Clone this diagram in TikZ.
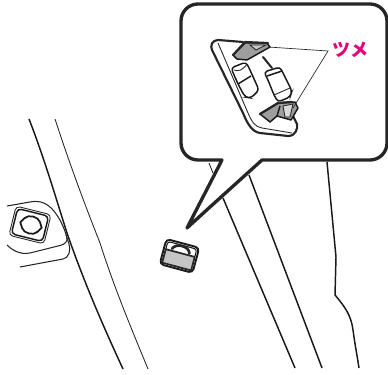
\documentclass[tikz,border=0pt]{standalone}
\usepackage{fontspec}
\newfontfamily\cjk{Noto Sans CJK JP}
\definecolor{tsumepink}{HTML}{E6007E}
\definecolor{clawgray}{gray}{0.62}
\tikzset{
  thinline/.style={line width=0.65pt, black!85},
  midline/.style={line width=1.1pt, black!90},
  heavyline/.style={line width=2.5pt, black!85, line join=round, line cap=round},
}
\begin{document}
\begin{tikzpicture}[x=0.75pt, y=-0.75pt]
        \useasboundingbox (0,0) rectangle (388,374);
        % Door edge on the left
        \draw[midline] (29,119) .. controls (45,160) and (58,205) .. (67,233) .. controls (85,285) and (105,330) .. (123,369);
        \draw[thinline] (55,119) .. controls (70,165) and (85,205) .. (100,243) .. controls (115,290) and (132,330) .. (148,369);

        % Switch panel
        \draw[thinline, line width=0.8pt] (7,206) -- (30,202) .. controls (45,199) and (53,208) .. (60,220) .. controls (64,228) and (68,238) .. (67,240) .. controls (66,244) and (62,245) .. (58,246) -- (30,253) .. controls (20,255) and (12,250) .. (7,245);
        \draw[thinline, line width=0.8pt] (20,267) -- (63,259) .. controls (69,258) and (71,250) .. (69,244) -- (66,235);
        \draw[midline, rounded corners=3pt, rotate around={-14:(30,225)}] (14,212) rectangle (46,238);
        \draw[thinline, rounded corners=3pt, rotate around={-14:(30,225)}] (12,210) rectangle (48,240);
        \draw[midline, line width=1.3pt, rotate around={-14:(31,225)}] (20,225) -- (23,220) .. controls (26,215) and (36,215) .. (39,220) -- (42,225) -- (39,230) .. controls (36,235) and (26,235) .. (23,230) -- cycle;

        % Lines behind the callout
        \draw[thinline] (209,163) -- (213,173);
        \draw[midline] (223,198) -- (295,368);
        \draw[midline] (249,175) -- (322,368);
        \draw[midline] (327,162) -- (336,257) -- (335,295) .. controls (345,307) and (351,315) .. (353,330) .. controls (355,345) and (357,355) .. (359,368);

        % Small clip
        \begin{scope}[rotate around={-15:(180,254)}]
            \fill[clawgray!60] (165,253) rectangle (195,267);
            \draw[midline, line width=1.4pt, rounded corners=3pt] (163,243) rectangle (197,269);
            \draw[midline, line width=0.8pt, rounded corners=2pt] (165,253) -- (165,245) -- (195,245) -- (195,253);
            \draw[heavyline, line width=1.3pt] (165,267) -- (165,253) -- (195,253) -- (195,267) -- cycle;
            \draw[heavyline, line width=2pt] (171,251) .. controls (173,244) and (187,244) .. (189,251);
        \end{scope}

        % Callout
        \draw[heavyline, fill=white] (198,160) -- (222,160) -- (187,228) -- (210,207) -- (262,160) -- (370,160)
            arc[start angle=90, end angle=0, radius=17] -- (387,21)
            arc[start angle=0, end angle=-90, radius=17] -- (198,4)
            arc[start angle=-90, end angle=-180, radius=17] -- (181,143)
            arc[start angle=180, end angle=90, radius=17];

        % Clip in the callout
        \draw[heavyline, line width=1.6pt] (243,42) -- (218,40) .. controls (212,40) and (210,46) .. (212,50)
            -- (243,113) .. controls (247,123) and (252,132) .. (260,133) -- (288,136) .. controls (296,136) and (298,128) .. (297,124) -- (293,116);
        \draw[thinline] (218,43) -- (248,113) .. controls (252,122) and (255,127) .. (262,128) -- (292,133);
        \draw[midline, fill=white, rounded corners=2.5pt] (231,68) -- (246,62) -- (250,70) -- (259,90) -- (251,98) -- (245,97) -- (238,84) -- cycle;
        \draw[midline] (238,84) -- (251,76);
        \draw[thinline] (234,70) .. controls (238,72) and (243,70) .. (247,64);
        \draw[midline, fill=white, rounded corners=2.5pt] (264,72) -- (280,67) -- (284,75) -- (292,91) -- (290,97) -- (278,102) -- (274,95) -- (268,80) -- cycle;
        \draw[midline] (267,76) -- (282,71);
        \draw[thinline] (274,95) -- (290,88);
        \draw[heavyline, line width=1.5pt] (263,57) -- (272,68);
        \draw[midline, fill=clawgray, line join=round] (233,55) -- (245,43) -- (267,43) -- (270,47) -- (247,60) -- (237,59) -- cycle;
        \draw[heavyline, line width=1.6pt] (233,55) -- (245,42) -- (268,43);
        \draw[thinline, fill=clawgray!60] (250,45) -- (266,45) -- (256,50) -- cycle;
        \draw[midline, fill=clawgray, line join=round] (260,114) -- (278,103) -- (295,102) -- (298,108) -- (291,120) -- (277,116) -- (270,122) -- cycle;
        \draw[heavyline, line width=1.7pt] (260,114) -- (278,103) -- (292,102);
        \draw[thinline, fill=clawgray!40] (283,106) -- (293,104) -- (290,117) -- (285,117) -- cycle;
        \draw[midline] (277,116) -- (280,106);

        % Label with its leader lines
        \node[text=tsumepink, font=\cjk\bfseries\fontsize{13.5pt}{14pt}\selectfont, inner sep=0pt] (tsume) at (350,50) {ツメ};
        \coordinate (apex) at (328,51);
        \coordinate (clawtop) at (268,47);
        \coordinate (clawbottom) at (293,108);
        \draw[thinline, line width=0.5pt] (clawtop) -- (apex) -- (clawbottom);
    \end{tikzpicture}
\end{document}
